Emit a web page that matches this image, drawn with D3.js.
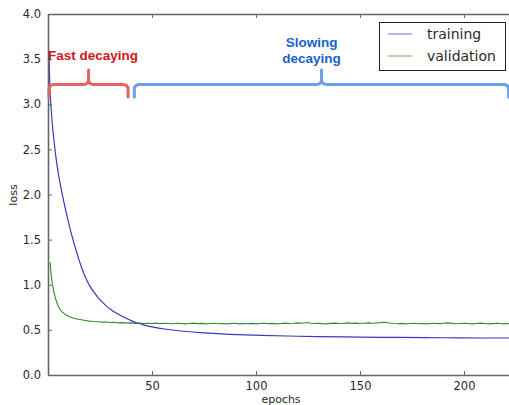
<!DOCTYPE html>
<html>
<head>
<meta charset="utf-8">
<script src="https://cdn.jsdelivr.net/npm/d3@7"></script>
<style>
  body { margin: 0; background: #fff; }
  svg { display: block; }
</style>
</head>
<body>
<div class="chart"></div>
<script>
let width = 509,
    height = 405;

// training loss
const trainEpochs = [0.5, 1, 2, 3, 4, 5, 6, 7, 8, 9, 10, 11, 12, 13, 14, 15, 16, 17, 18, 19, 20, 22, 24, 26, 28, 30, 33, 36, 40, 43, 46, 50, 57, 65, 75, 85, 100, 115, 130, 150, 170, 190, 210, 222];
const trainLoss = [3.58, 3.15, 2.8, 2.57, 2.38, 2.23, 2.10, 1.985, 1.877, 1.775, 1.677, 1.585, 1.5, 1.42, 1.345, 1.27, 1.2, 1.138, 1.083, 1.034, 0.99, 0.92, 0.86, 0.81, 0.766, 0.728, 0.683, 0.645, 0.603, 0.576, 0.556, 0.534, 0.507, 0.485, 0.466, 0.453, 0.441, 0.432, 0.425, 0.42, 0.416, 0.413, 0.41, 0.41];

// validation loss
const valEarlyEpochs = [1, 1.5, 2, 3, 4, 5, 6, 7, 8, 9, 10, 12, 14, 16, 18, 20];
const valEarlyLoss = [1.25, 1.12, 1.02, 0.9, 0.82, 0.76, 0.72, 0.695, 0.677, 0.662, 0.65, 0.632, 0.62, 0.612, 0.604, 0.597];
const valLateLoss = [
    0.592, 0.590, 0.586, 0.588, 0.582, 0.584, 0.578, 0.580, 0.575, 0.577,
    0.572, 0.575, 0.570, 0.574, 0.571, 0.575, 0.569, 0.573, 0.570, 0.568,
    0.574, 0.570, 0.566, 0.571, 0.575, 0.569, 0.572, 0.567, 0.570, 0.574,
    0.568, 0.571, 0.566, 0.570, 0.573, 0.567, 0.571, 0.568, 0.572, 0.566,
    0.570, 0.574, 0.569, 0.572, 0.567, 0.571, 0.575, 0.570, 0.573, 0.578,
    0.574, 0.582, 0.576, 0.571, 0.574, 0.569, 0.566, 0.572, 0.575, 0.570,
    0.573, 0.577, 0.572, 0.575, 0.571, 0.574, 0.578, 0.573, 0.576, 0.580,
    0.585, 0.576, 0.571, 0.568, 0.572, 0.567, 0.570, 0.573, 0.568, 0.571,
    0.566, 0.570, 0.574, 0.569, 0.573, 0.577, 0.572, 0.568, 0.571, 0.574,
    0.570, 0.567, 0.571, 0.575, 0.570, 0.566, 0.569, 0.573, 0.568, 0.571,
    0.568
];
const valLateEpochs = d3.range(22, 223, 2);

const xTicks = [50, 100, 150, 200];
const yTicks = [0, 0.5, 1, 1.5, 2, 2.5, 3, 3.5, 4];

const seriesNames = ["training", "validation"];
const seriesColors = ["#3a3ab8", "#2f8f2f"];

// brace annotations: epoch ranges and the bump position
const braceLabels = [["Fast decaying"], ["Slowing", "decaying"]];
const braceFrom = [0.5, 41.5];
const braceTo = [38.5, 221.5];
const braceMid = [19.5, 131.5];
const braceColors = ["#e06666", "#6d9eeb"];
const labelColors = ["#d01818", "#1a5fd0"];

document.addEventListener('DOMContentLoaded', () => {
    const margin = {left: 48, top: 14, bottom: 30};
    const plotH = height - margin.top - margin.bottom; // 361

    const x = d3.scaleLinear().domain([0, 222]).range([margin.left, margin.left + 222 * 2.08]);
    const y = d3.scaleLinear().domain([0, 4]).range([margin.top + plotH, margin.top]);

    let svg = d3.select(".chart").append("svg")
        .attr("width", width)
        .attr("height", height);

    svg.append("defs").append("clipPath").attr("id", "clip")
        .append("rect")
        .attr("x", x(0)).attr("y", y(4))
        .attr("width", x(222) - x(0)).attr("height", y(0) - y(4));

    const training = trainEpochs.map((e, i) => [e, trainLoss[i]]);
    const validation = valEarlyEpochs.map((e, i) => [e, valEarlyLoss[i]])
        .concat(valLateEpochs.map((e, i) => [e, valLateLoss[i]]));

    const line = d3.line().x(d => x(d[0])).y(d => y(d[1]));

    const plot = svg.append("g").attr("clip-path", "url(#clip)");
    plot.append("path")
        .datum(validation)
        .attr("fill", "none")
        .attr("stroke", seriesColors[1])
        .attr("stroke-width", 1.1)
        .attr("d", line);
    plot.append("path")
        .datum(training)
        .attr("fill", "none")
        .attr("stroke", seriesColors[0])
        .attr("stroke-width", 1.2)
        .attr("d", line.curve(d3.curveCatmullRom.alpha(0.5)));

    // axes, ticks inside like matplotlib
    const font = "'DejaVu Sans', sans-serif";
    const axisColor = "#666";

    const bottomAxis = d3.axisBottom(x).tickValues(xTicks).tickSizeInner(-4).tickSizeOuter(0).tickPadding(7);
    const topAxis = d3.axisTop(x).tickValues(xTicks).tickSizeInner(-4).tickSizeOuter(0).tickFormat("");
    const leftAxis = d3.axisLeft(y).tickValues(yTicks).tickSizeInner(-4).tickSizeOuter(0).tickPadding(7).tickFormat(d3.format(".1f"));

    const gb = svg.append("g").attr("transform", `translate(0,${y(0)})`).call(bottomAxis);
    const gt = svg.append("g").attr("transform", `translate(0,${y(4)})`).call(topAxis);
    const gl = svg.append("g").attr("transform", `translate(${x(0)},0)`).call(leftAxis);

    [gb, gt, gl].forEach(g => {
        g.select(".domain").attr("stroke", axisColor).attr("stroke-width", 1.6);
        g.selectAll(".tick line").attr("stroke", axisColor);
        g.selectAll("text")
            .attr("fill", "#2a2a2a")
            .style("font-family", font)
            .style("font-size", "11.5px");
    });

    svg.append("text")
        .attr("x", 281)
        .attr("y", 403)
        .attr("text-anchor", "middle")
        .style("font-family", font)
        .style("font-size", "11px")
        .attr("fill", "#2a2a2a")
        .text("epochs");

    svg.append("text")
        .attr("transform", "translate(17,195) rotate(-90)")
        .attr("text-anchor", "middle")
        .style("font-family", font)
        .style("font-size", "11px")
        .attr("fill", "#2a2a2a")
        .text("loss");

    // legend
    const legend = svg.append("g");
    legend.append("rect")
        .attr("x", 379.5).attr("y", 22.5)
        .attr("width", 126).attr("height", 48)
        .attr("fill", "#fff")
        .attr("stroke", "#222")
        .attr("stroke-width", 1);
    seriesNames.forEach((name, i) => {
        const ly = 34 + i * 22;
        legend.append("line")
            .attr("x1", 388).attr("x2", 412)
            .attr("y1", ly).attr("y2", ly)
            .attr("stroke", seriesColors[i])
            .attr("stroke-opacity", 0.6)
            .attr("stroke-width", 1.2);
        legend.append("text")
            .attr("x", 427).attr("y", ly + 5)
            .style("font-family", font)
            .style("font-size", "14px")
            .attr("fill", "#2a2a2a")
            .text(name);
    });

    // braces
    const yBar = y(3.22), yEnd = y(3.08), yBump = y(3.38);
    braceLabels.forEach((lines, i) => {
        const x0 = x(braceFrom[i]), x1 = x(braceTo[i]), xm = x(braceMid[i]);
        const r = 5;
        const p = d3.path();
        p.moveTo(x0, yEnd);
        p.lineTo(x0, yBar + r);
        p.quadraticCurveTo(x0, yBar, x0 + r, yBar);
        p.lineTo(xm - r, yBar);
        p.quadraticCurveTo(xm, yBar, xm, yBar - r);
        p.lineTo(xm, yBump);
        p.moveTo(xm, yBar - r);
        p.quadraticCurveTo(xm, yBar, xm + r, yBar);
        p.lineTo(x1 - r, yBar);
        p.quadraticCurveTo(x1, yBar, x1, yBar + r);
        p.lineTo(x1, yEnd);
        svg.append("path")
            .attr("d", p.toString())
            .attr("fill", "none")
            .attr("stroke", braceColors[i])
            .attr("stroke-width", 3)
            .attr("stroke-linecap", "round");

        const t = svg.append("text")
            .attr("text-anchor", i === 0 ? "start" : "middle")
            .style("font-family", "'Liberation Sans', Arial, sans-serif")
            .style("font-weight", "bold")
            .style("font-size", "13.5px")
            .attr("fill", labelColors[i]);
        lines.forEach((s, k) => {
            t.append("tspan")
                .attr("x", i === 0 ? x0 - 1 : xm - 10)
                .attr("y", (i === 0 ? 60 : 47) + k * 16)
                .text(s);
        });
    });
});
</script>
</body>
</html>
